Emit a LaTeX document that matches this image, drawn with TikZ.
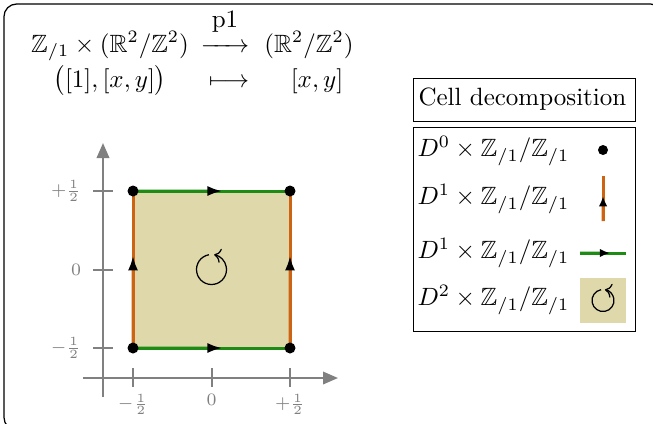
\documentclass[tikz,border=0pt]{standalone}
\usepackage{amsmath,amssymb}
\usetikzlibrary{arrows.meta,calc}
\definecolor{cellfill}{RGB}{222,216,170}
\definecolor{edgegreen}{RGB}{30,140,20}
\definecolor{edgeorange}{RGB}{205,100,20}
\definecolor{axisgray}{RGB}{128,128,128}
\begin{document}
\begin{tikzpicture}[x=0.4pt,y=-0.4pt,
  axis/.style={draw=axisgray,line width=0.8pt},
  ticklabel/.style={text=axisgray,font=\scriptsize,inner sep=1pt},
  vedge/.style={draw=edgeorange,line width=1.2pt},
  hedge/.style={draw=edgegreen,line width=1.2pt},
  vertex/.style={circle,fill=black,inner sep=0pt,minimum size=4.4pt},
  ldot/.style={circle,fill=black,inner sep=0pt,minimum size=4pt},
  bigtip/.style={-{Latex[length=6pt,width=4pt,color=black]}},
  smalltip/.style={-{Latex[length=4pt,width=3.4pt,color=black]}},
  legendtext/.style={anchor=west,inner sep=0pt},
  formula/.style={anchor=base,inner sep=0pt},
  rot/.style={line width=0.5pt,->}]
\useasboundingbox (0,0) rectangle (653,423);
\begin{scope}
  \clip (0,0) rectangle (653,423);
  \draw[line width=0.5pt,rounded corners=5pt] (4,4) rectangle (663,430);
\end{scope}

% formula
\node[formula] (src) at (110,52) {$\mathbb{Z}_{/1}\times(\mathbb{R}^2/\mathbb{Z}^2)$};
\node[formula] (map) at (225,52) {$\overset{\textstyle\mathrm{p1}}{\xrightarrow{\hspace{13pt}}}$};
\node[formula] (tgt) at (309,52) {$(\mathbb{R}^2/\mathbb{Z}^2)$};
\node[formula] (elt) at (110,87) {$\big([1],[x,y]\big)$};
\node[formula] (mto) at (229,87) {$\longmapsto$};
\node[formula] (img) at (317,87) {$[x,y]$};

% axes
\coordinate (yb) at (103,397);
\coordinate (yt) at (103,143);
\coordinate (xl) at (83,378);
\coordinate (xr) at (338,378);
\draw[axis,-{Triangle[length=6pt,width=5pt]}] (yb) -- (yt);
\draw[axis,-{Triangle[length=6pt,width=5pt]}] (xl) -- (xr);
\foreach \x/\lab in {133/{$-\frac{1}{2}$},211.5/{$0$},290/{$+\frac{1}{2}$}}{
  \draw[axis] (\x,368) -- (\x,387);
  \node[ticklabel,anchor=north] at (\x,391) {\lab};
}
\foreach \y/\lab in {191/{$+\frac{1}{2}$},269.5/{$0$},348/{$-\frac{1}{2}$}}{
  \draw[axis] (93,\y) -- (113,\y);
  \node[ticklabel,anchor=east] at (84,\y) {\lab};
}

% square
\coordinate (A) at (133,348);
\coordinate (B) at (290,348);
\coordinate (C) at (290,191);
\coordinate (D) at (133,191);
\coordinate (ctr) at (211.5,269.5);
\fill[cellfill] (A) rectangle (C);
\draw[vedge] (A) -- (D);
\draw[vedge] (B) -- (C);
\draw[hedge] (A) -- (B);
\draw[hedge] (D) -- (C);
\draw[vedge,bigtip] (A) -- ($(A)!0.59!(D)$);
\draw[vedge,bigtip] (B) -- ($(B)!0.59!(C)$);
\draw[hedge,bigtip] (A) -- ($(A)!0.57!(B)$);
\draw[hedge,bigtip] (D) -- ($(D)!0.57!(C)$);
\foreach \p in {A,B,C,D} \node[vertex] at (\p) {};
\draw[rot] ($(ctr)+(100:6pt)$) arc[start angle=100,end angle=440,radius=6pt];

% legend
\node[draw,line width=0.5pt,minimum width=89pt,minimum height=17.2pt,inner sep=2pt,anchor=north west] (title) at (412.7,78) {};
\node[anchor=west,inner sep=0pt] (titletext) at (418,99.5) {Cell decomposition};
\node[draw,line width=0.5pt,minimum width=89pt,minimum height=81.6pt,inner sep=0pt,anchor=north west] (lbox) at (412.7,126.7) {};
\node[legendtext] (r0) at (417,151) {$D^0\times\mathbb{Z}_{/1}/\mathbb{Z}_{/1}$};
\node[legendtext] (r1) at (417,199) {$D^1\times\mathbb{Z}_{/1}/\mathbb{Z}_{/1}$};
\node[legendtext] (r2) at (417,253) {$D^1\times\mathbb{Z}_{/1}/\mathbb{Z}_{/1}$};
\node[legendtext] (r3) at (417,300) {$D^2\times\mathbb{Z}_{/1}/\mathbb{Z}_{/1}$};
\node[ldot] (s0) at (603,150) {};
\coordinate (s1a) at (603,221);
\coordinate (s1b) at (603,176);
\draw[vedge] (s1a) -- (s1b);
\draw[vedge,smalltip] (s1a) -- ($(s1a)!0.55!(s1b)$);
\coordinate (s2a) at (580,253);
\coordinate (s2b) at (626,253);
\draw[hedge] (s2a) -- (s2b);
\draw[hedge,smalltip] (s2a) -- ($(s2a)!0.65!(s2b)$);
\coordinate (s3a) at (580,323);
\coordinate (s3b) at (626,278);
\coordinate (s3c) at (603,300.5);
\fill[cellfill] (s3a) rectangle (s3b);
\draw[rot] ($(s3c)+(100:4.4pt)$) arc[start angle=100,end angle=440,radius=4.4pt];
\end{tikzpicture}
\end{document}
